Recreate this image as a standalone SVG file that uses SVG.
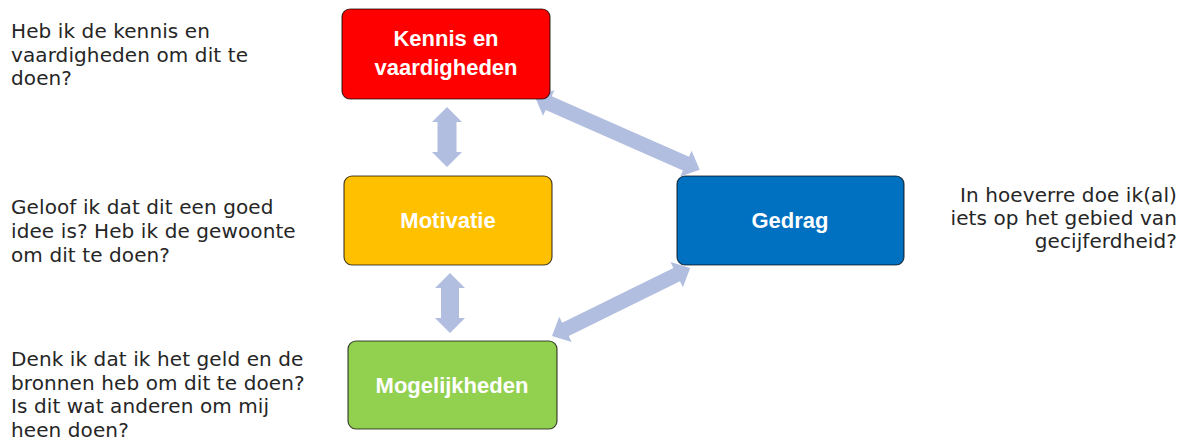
<svg xmlns="http://www.w3.org/2000/svg" width="1189" height="445" viewBox="0 0 1189 445">
<style>
.arrow{fill:#b1bee0}
.box{stroke:#000;stroke-opacity:0.7;stroke-width:1.2}
.lbl{font-family:"Liberation Sans",Arial,sans-serif;font-weight:bold;font-size:22px;fill:#fff;text-anchor:middle}
.note{font-family:"DejaVu Sans","Liberation Sans",sans-serif;font-size:20px;letter-spacing:0.1px;fill:#262626}
.r{text-anchor:end}
</style>
<rect width="1189" height="445" fill="#fff"/>
<g id="connectors">
<polygon class="arrow" transform="translate(447,107) rotate(90)" points="0,0 15,-15 15,-9.5 45,-9.5 45,-15 60,0 45,15 45,9.5 15,9.5 15,15"/>
<polygon class="arrow" transform="translate(450,273) rotate(90)" points="0,0 15,-15 15,-9 45,-9 45,-15 60,0 45,15 45,9 15,9 15,15"/>
<polygon class="arrow" transform="translate(535,97) rotate(23.8)" points="0,0 15,-14 15,-7.5 165,-7.5 165,-14 180,0 165,14 165,7.5 15,7.5 15,14"/>
<polygon class="arrow" transform="translate(552,336) rotate(-26.2)" points="0,0 15,-14 15,-7.5 139,-7.5 139,-14 154,0 139,14 139,7.5 15,7.5 15,14"/>
</g>
<g id="kennis">
<rect class="box" x="342" y="9" width="208" height="90" rx="8" fill="#ff0000"/>
<text class="lbl" x="446" y="46">Kennis en</text>
<text class="lbl" x="446" y="75">vaardigheden</text>
</g>
<g id="motivatie">
<rect class="box" x="344" y="176" width="208" height="89" rx="8" fill="#ffc000"/>
<text class="lbl" x="448" y="228">Motivatie</text>
</g>
<g id="gedrag">
<rect class="box" x="677" y="176" width="227" height="89" rx="8" fill="#0070c0"/>
<text class="lbl" x="790" y="228">Gedrag</text>
</g>
<g id="mogelijkheden">
<rect class="box" x="348" y="341" width="209" height="88" rx="8" fill="#92d050"/>
<text class="lbl" x="452" y="393">Mogelijkheden</text>
</g>
<g id="notes">
<text class="note"><tspan x="11" y="38">Heb ik de kennis en</tspan><tspan x="11" y="61.5">vaardigheden om dit te</tspan><tspan x="11" y="85">doen?</tspan></text>
<text class="note"><tspan x="11" y="214">Geloof ik dat dit een goed</tspan><tspan x="11" y="238">idee is? Heb ik de gewoonte</tspan><tspan x="11" y="262">om dit te doen?</tspan></text>
<text class="note"><tspan x="11" y="366">Denk ik dat ik het geld en de</tspan><tspan x="11" y="389.5">bronnen heb om dit te doen?</tspan><tspan x="11" y="413">Is dit wat anderen om mij</tspan><tspan x="11" y="436.5">heen doen?</tspan></text>
<text class="note r"><tspan x="1177" y="202">In hoeverre doe ik(al)</tspan><tspan x="1177" y="225">iets op het gebied van</tspan><tspan x="1177" y="248">gecijferdheid?</tspan></text>
</g>
</svg>
